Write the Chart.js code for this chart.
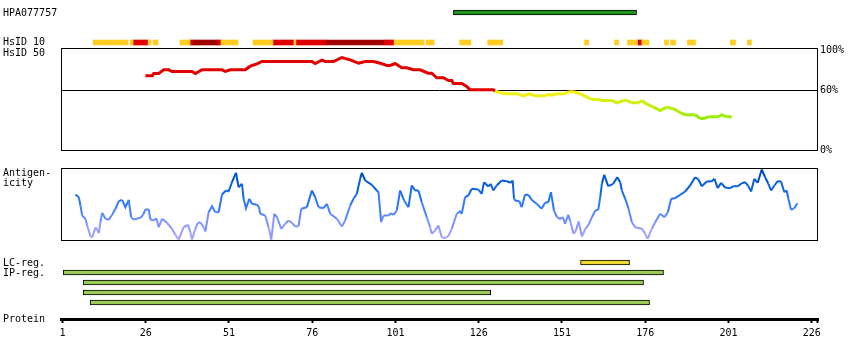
<!DOCTYPE html>
<html>
<head>
<meta charset="utf-8">
<script src="https://cdn.jsdelivr.net/npm/chart.js@4/dist/chart.umd.min.js"></script>
<style>
  body { margin: 0; background: #fff; }
  #wrap { position: relative; width: 850px; height: 360px; overflow: hidden;
          font: 10px "DejaVu Sans Mono", monospace; color: #000; }
  #wrap canvas { position: absolute; left: 0; top: 0; }
  .lbl { position: absolute; left: 3px; line-height: 10px; white-space: nowrap; }
</style>
</head>
<body>
<div id="wrap">
  <canvas id="tracks" width="850" height="360"></canvas>
  <canvas id="identity" width="850" height="360"></canvas>
  <canvas id="antigen" width="850" height="360"></canvas>
  <canvas id="regions" width="850" height="360"></canvas>
  <canvas id="protein" width="850" height="360"></canvas>
  <div class="lbl" style="top:7.5px">HPA077757</div>
  <div class="lbl" style="top:37px">HsID 10</div>
  <div class="lbl" style="top:47.5px">HsID 50</div>
  <div class="lbl" style="top:168px">Antigen-</div>
  <div class="lbl" style="top:178px">icity</div>
  <div class="lbl" style="top:257.5px">LC-reg.</div>
  <div class="lbl" style="top:267.5px">IP-reg.</div>
  <div class="lbl" style="top:313.5px">Protein</div>
</div>
<script>
const $ = (id) => document.getElementById(id);

// residue axis
const residueMin = 0.55;
const residueMax = 227.9;
const proteinTicks = [1, 26, 51, 76, 101, 126, 151, 176, 201, 226];
const proteinEnd = 227.6;

// antibody / region tracks (residue ranges)
const hpaRange = [118.4, 173.4];
const lcStart = [156.6];
const lcEnd = [171.3];
const ipStart = [1.2, 7.2, 7.2, 9.3];
const ipEnd = [181.5, 175.5, 129.6, 177.3];

// HsID 10 segments, level 1 = low, 2 = mid, 3 = high
const hsid10Start = [10.2, 21.3, 22.2, 26.7, 28.2, 36.3, 39.3, 40.2, 47.7, 48.6, 58.2, 64.2, 70.5, 71.1, 80.1, 97.6, 100.6, 110.2, 120.3, 128.7, 157.8, 166.8, 170.7, 173.7, 175.0, 181.8, 183.6, 188.7, 201.6, 206.7];
const hsid10End   = [20.7, 22.2, 26.7, 27.6, 29.7, 39.3, 40.2, 47.7, 48.6, 53.7, 64.2, 70.5, 71.1, 80.1, 97.6, 100.6, 109.6, 112.6, 123.6, 133.2, 159.0, 168.0, 173.7, 175.0, 177.1, 183.0, 185.1, 191.1, 203.1, 207.9];
const hsid10Level = [1, 1, 2, 1, 1, 1, 2, 3, 2, 1, 1, 2, 1, 2, 3, 2, 1, 1, 1, 1, 1, 1, 1, 2, 1, 1, 1, 1, 1, 1];

// HsID 50 identity (%)
const hsid50Pos = [25.9, 28.0, 28.4, 29.9, 31.4, 32.9, 33.9, 39.9, 40.9, 42.9, 48.9, 49.9, 51.4, 55.9, 57.4, 59.4, 60.9, 75.9, 76.9, 78.9, 79.9, 82.4, 84.9, 87.4, 89.9, 91.9, 94.4, 96.4, 98.4, 99.4, 100.9, 102.9, 104.4, 106.4, 108.4, 110.8, 111.9, 113.4, 115.4, 116.9, 117.9, 118.4, 120.9, 122.4, 123.4, 130.4, 130.9, 133.9, 137.9, 139.4, 141.4, 142.9, 145.9, 146.9, 147.9, 149.5, 151.9, 153.0, 154.5, 156.5, 158.5, 160.0, 162.0, 163.0, 166.0, 167.5, 169.5, 170.5, 172.0, 174.0, 175.0, 176.5, 178.5, 180.5, 182.5, 184.5, 186.5, 188.0, 191.0, 192.5, 193.5, 195.0, 198.0, 199.0, 200.5, 202.0];
const hsid50Val = [74.7, 74.7, 77, 77, 80.7, 80.7, 79, 79, 77, 80.7, 80.7, 79, 80.7, 80.7, 84.3, 86.7, 89, 89, 87, 90.3, 89, 89, 93, 90.7, 87.3, 89, 89, 87.3, 85, 85, 87, 82.7, 82.7, 80.7, 80.7, 77.3, 77.3, 72.7, 72.7, 70, 70, 67, 67, 64, 60.7, 60.7, 59.3, 56.7, 56.7, 54.7, 56.7, 54.7, 54.7, 56.3, 55.3, 56.7, 56.7, 58.7, 58.7, 56.7, 53.3, 51, 51, 50, 50, 47.7, 50, 50, 47.7, 47.7, 50, 46.3, 43.3, 40, 43.3, 41.7, 38, 35.7, 35.7, 32, 32, 33.7, 33.7, 35.7, 33.7, 33.7];
const identityTicks = [0, 60, 100];

// antigenicity profile
const antigenPos = [4.9, 5.9, 6.4, 6.9, 7.9, 8.4, 9.4, 9.9, 10.9, 11.6, 11.9, 12.4, 12.9, 13.9, 14.9, 15.9, 16.9, 17.9, 18.9, 19.9, 20.9, 21.6, 22.4, 24.4, 25.2, 25.9, 26.9, 27.4, 28.4, 29.2, 29.9, 30.9, 32.4, 33.9, 34.9, 35.9, 37.4, 38.7, 39.4, 39.9, 40.9, 41.6, 42.4, 43.4, 43.9, 44.9, 45.9, 46.9, 47.9, 48.9, 50.1, 50.9, 51.9, 53.1, 53.9, 54.9, 55.4, 56.1, 57.1, 57.9, 59.4, 59.9, 60.4, 61.9, 62.9, 63.7, 64.6, 65.4, 66.7, 67.9, 68.9, 69.9, 70.9, 71.9, 72.7, 74.4, 75.9, 76.9, 77.9, 79.4, 80.4, 81.4, 83.4, 84.9, 85.9, 87.4, 88.4, 89.4, 90.4, 90.9, 91.9, 93.9, 95.4, 95.9, 96.7, 97.4, 98.9, 99.6, 100.4, 101.4, 102.4, 103.6, 104.9, 105.9, 106.9, 107.9, 108.9, 110.4, 111.4, 111.9, 112.9, 113.9, 114.9, 115.9, 116.9, 117.9, 119.4, 120.4, 120.9, 121.9, 122.9, 123.9, 125.9, 126.9, 127.6, 128.9, 129.6, 130.4, 131.4, 132.9, 134.4, 135.6, 136.2, 136.6, 136.9, 138.2, 138.9, 139.9, 140.9, 141.9, 143.4, 144.9, 145.9, 146.9, 147.7, 148.6, 149.5, 150.4, 151.3, 151.9, 152.9, 153.5, 154.5, 155.2, 156.0, 157.0, 158.0, 159.0, 160.0, 161.0, 161.9, 162.5, 163.0, 163.7, 164.9, 166.4, 167.6, 168.5, 169.0, 170.0, 171.0, 172.0, 173.0, 175.0, 176.0, 176.7, 178.0, 179.0, 180.5, 181.8, 182.8, 183.8, 185.0, 186.5, 188.0, 189.5, 191.0, 192.0, 193.0, 194.5, 196.0, 196.8, 197.8, 198.8, 200.0, 201.5, 202.5, 203.8, 205.0, 206.0, 207.0, 207.8, 208.8, 209.8, 211.0, 212.0, 213.0, 213.8, 214.8, 215.8, 216.8, 217.8, 218.5, 219.0, 219.8, 220.8, 221.7];
const antigenVal = [46, 43.3, 35, 25, 21.7, 15, 4.3, 3, 13, 10, 7.3, 18.3, 27.7, 21.7, 20.7, 25.7, 31.7, 39.3, 40.7, 33.3, 40.7, 23.3, 21, 22.7, 25.7, 31, 31, 21, 20, 22.3, 13.3, 21.7, 17.7, 11.7, 5.7, 1, 13.3, 15.7, 8.3, 1, 11.7, 17.3, 18.3, 13.3, 9, 28.3, 34.3, 28.3, 28.3, 46, 50, 49, 58.3, 67.7, 53.3, 56.7, 41.7, 32.3, 41.7, 36.7, 35.7, 34.3, 26.7, 25, 13.3, 1, 26.7, 23.3, 11.7, 16.7, 20, 17.7, 14, 14.3, 31.7, 33.3, 50, 43.3, 33.3, 32.3, 36.7, 26.7, 21.7, 14, 20, 35, 41.7, 46.7, 61.7, 67.7, 60, 55.7, 50, 48.3, 18.3, 25, 25, 27.3, 25.7, 30, 50, 40, 33.3, 55, 50, 50, 38.3, 23.3, 13.3, 6.7, 10, 15, 3.3, 2.3, 4.3, 11.7, 26.7, 29, 26.7, 43.3, 45, 51.7, 51, 46.7, 58.3, 54, 56.7, 50, 55, 60, 59.3, 57.7, 60, 41.7, 40, 39.3, 33.3, 45.7, 45.7, 40.7, 36.7, 31.7, 37.7, 38.3, 48.3, 30, 23.3, 21.7, 23.3, 16.7, 25.7, 19, 6.7, 10, 19, 4, 11.7, 15.7, 23.3, 30, 30.7, 43.3, 56.7, 65.7, 54.3, 56.7, 63.3, 58.3, 50, 41.7, 31.7, 18.3, 13.3, 11.7, 6.7, 1.7, 11.7, 18.3, 26.7, 23.3, 28.3, 41.7, 42.3, 45.7, 49, 55, 63.3, 61, 54.3, 59, 59.3, 61.7, 52.3, 57.7, 53, 52.3, 54.3, 54.3, 57.3, 58.3, 54.3, 49, 61.7, 57.7, 71, 63.3, 56.7, 50, 55, 59.3, 59, 48.3, 50, 41.7, 30.7, 32.3, 37.3];

const font = { family: '"DejaVu Sans Mono", monospace', size: 10 };
const hsid10Colors = { 1: '#ffcc22', 2: '#e00000', 3: '#a00000' };

const common = {
  responsive: false,
  animation: false,
  events: [],
  plugins: { legend: { display: false }, tooltip: { enabled: false } },
};

const frame = {
  id: 'frame',
  afterDatasetsDraw(chart) {
    const a = chart.chartArea;
    const c = chart.ctx;
    c.save();
    c.strokeStyle = '#000';
    c.lineWidth = 1;
    c.strokeRect(a.left + 0.5, a.top + 0.5, a.right - a.left - 1, a.bottom - a.top - 1);
    c.restore();
  },
};

function residueAxis() {
  return { type: 'linear', min: residueMin, max: residueMax, display: false };
}

function mix(a, b, t) {
  return a.map((v, i) => Math.round(v + (b[i] - v) * t));
}

function identityColor(p) {
  if (p >= 60) return '#e00000';
  const t = Math.max(0, Math.min(1, (60 - p) / 27));
  const c = mix([255, 240, 20], [150, 236, 0], t);
  return `rgb(${c[0]},${c[1]},${c[2]})`;
}

const antigenStops = [
  [0, [176, 170, 255]],
  [15, [136, 150, 255]],
  [30, [72, 130, 255]],
  [45, [24, 110, 240]],
  [60, [0, 88, 210]],
  [72, [0, 60, 160]],
];
function antigenColor(v) {
  for (let i = 1; i < antigenStops.length; i++) {
    const [v1, c1] = antigenStops[i];
    const [v0, c0] = antigenStops[i - 1];
    if (v <= v1 || i === antigenStops.length - 1) {
      const t = Math.max(0, Math.min(1, (v - v0) / (v1 - v0)));
      const c = mix(c0, c1, t);
      return `rgb(${c[0]},${c[1]},${c[2]})`;
    }
  }
}

// top tracks: antibody and HsID 10
const trackRows = ['HPA077757', '', 'HsID 10'];
const hsidSets = [1, 2, 3].map((level) => ({
  data: hsid10Start
    .map((s, i) => ({ y: 'HsID 10', x: [s, hsid10End[i]], level: hsid10Level[i] }))
    .filter((d) => d.level === level),
  backgroundColor: hsid10Colors[level],
  borderWidth: 0,
  barThickness: 5,
  grouped: false,
}));

new Chart($('tracks'), {
  type: 'bar',
  data: {
    labels: trackRows,
    datasets: [
      { data: [{ y: 'HPA077757', x: hpaRange }], backgroundColor: '#1e961e', borderColor: '#000',
        borderWidth: 1, borderSkipped: false, barThickness: 5, grouped: false },
      ...hsidSets,
    ],
  },
  options: {
    ...common,
    indexAxis: 'y',
    layout: { padding: { left: 61, right: 32, top: 5, bottom: 310 } },
    scales: { x: residueAxis(), y: { type: 'category', display: false } },
  },
});

// HsID 50 identity
new Chart($('identity'), {
  type: 'line',
  data: {
    datasets: [{
      data: hsid50Pos.map((x, i) => ({ x, y: hsid50Val[i] })),
      borderColor: '#e00000',
      borderWidth: 3,
      pointRadius: 0,
      segment: { borderColor: (c) => identityColor((c.p0.parsed.y + c.p1.parsed.y) / 2) },
    }],
  },
  options: {
    ...common,
    layout: { padding: { left: 61, right: 0, top: 48, bottom: 209 } },
    scales: {
      x: residueAxis(),
      y: {
        type: 'linear', position: 'right', min: -0.5, max: 102.5,
        afterBuildTicks: (s) => { s.ticks = identityTicks.map((v) => ({ value: v })); },
        afterFit: (s) => { s.width = 32; },
        border: { display: false },
        grid: { drawTicks: false, color: (c) => (c.tick && c.tick.value === 60 ? '#000' : 'rgba(0,0,0,0)') },
        ticks: { padding: 2, color: '#000', font, callback: (v) => v + '%' },
      },
    },
  },
  plugins: [frame],
});

// antigenicity
new Chart($('antigen'), {
  type: 'line',
  data: {
    datasets: [{
      data: antigenPos.map((x, i) => ({ x, y: antigenVal[i] })),
      borderColor: '#2277ff',
      borderWidth: 2,
      pointRadius: 0,
      segment: { borderColor: (c) => antigenColor((c.p0.parsed.y + c.p1.parsed.y) / 2) },
    }],
  },
  options: {
    ...common,
    layout: { padding: { left: 61, right: 32, top: 168, bottom: 119 } },
    scales: { x: residueAxis(), y: { type: 'linear', min: -0.5, max: 72.5, display: false } },
  },
  plugins: [frame],
});

// LC / IP regions
const regionRows = ['LC-reg.', 'IP-reg. 1', 'IP-reg. 2', 'IP-reg. 3', 'IP-reg. 4'];
new Chart($('regions'), {
  type: 'bar',
  data: {
    labels: regionRows,
    datasets: [
      { data: lcStart.map((s, i) => ({ y: regionRows[0], x: [s, lcEnd[i]] })),
        backgroundColor: '#f0d832', borderColor: '#000', borderWidth: 1, borderSkipped: false,
        barThickness: 5, grouped: false },
      { data: ipStart.map((s, i) => ({ y: regionRows[i + 1], x: [s, ipEnd[i]] })),
        backgroundColor: '#9bca58', borderColor: '#000', borderWidth: 1, borderSkipped: false,
        barThickness: 5, grouped: false },
    ],
  },
  options: {
    ...common,
    indexAxis: 'y',
    layout: { padding: { left: 61, right: 32, top: 257.5, bottom: 52.5 } },
    scales: { x: residueAxis(), y: { type: 'category', display: false } },
  },
});

// protein axis
new Chart($('protein'), {
  type: 'scatter',
  data: { datasets: [] },
  options: {
    ...common,
    layout: { padding: { left: 61, right: 32, top: 300, bottom: 0 } },
    scales: {
      x: {
        type: 'linear', min: residueMin, max: residueMax, position: 'bottom',
        afterBuildTicks: (s) => { s.ticks = proteinTicks.concat([proteinEnd]).map((v) => ({ value: v })); },
        afterFit: (s) => { s.height = 41; },
        border: { display: true, color: '#000', width: 3 },
        grid: { display: true, drawOnChartArea: false, drawTicks: true, tickLength: 4, tickWidth: 2,
                tickColor: '#000', color: '#000' },
        ticks: { autoSkip: false, maxRotation: 0, padding: 4, color: '#000', font,
                 callback: (v) => (proteinTicks.includes(v) ? String(v) : '') },
      },
      y: { display: false },
    },
  },
});
</script>
</body>
</html>
